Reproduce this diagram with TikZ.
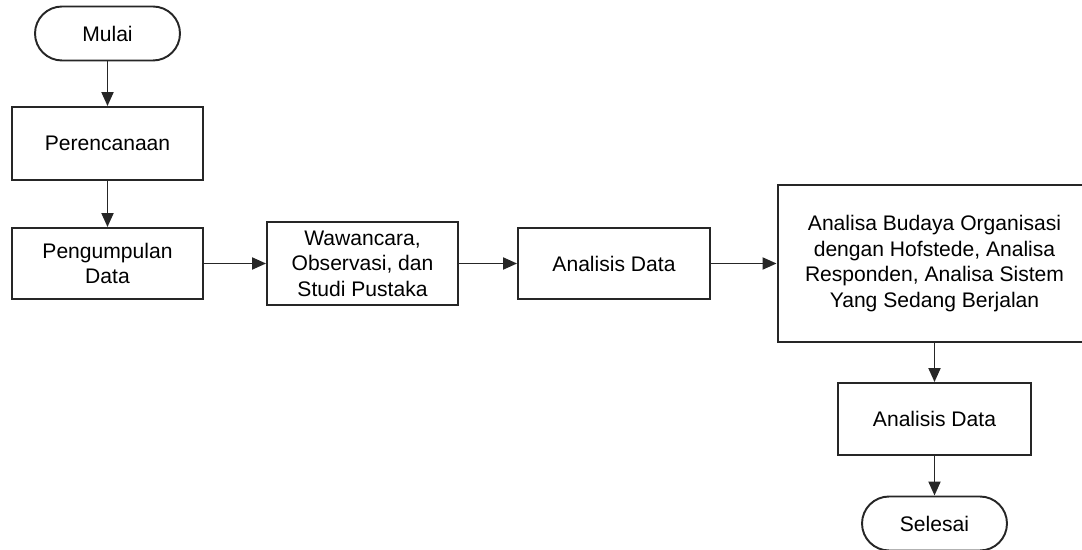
\documentclass[tikz,border=0pt]{standalone}
\usepackage{fontspec}
\setmainfont{Liberation Sans}
\usepackage{tikz}
\usetikzlibrary{arrows.meta, positioning}

\begin{document}
\begin{tikzpicture}[x=0.02cm, y=-0.02cm, >={Triangle[length=0.28cm, width=0.24cm]},
    line width=1.1pt, draw=black!85, font=\fontsize{12}{14.5}\selectfont,
    proses/.style={rectangle, draw, align=center, minimum width=3.82cm, minimum height=1.42cm, inner sep=0pt},
    terminal/.style={rectangle, draw, rounded corners=0.54cm, align=center, minimum width=2.9cm, minimum height=1.08cm, inner sep=0pt}]
    \useasboundingbox (0,0) rectangle (1082,550);
    \node (mulai) [terminal] at (107.5,33.5) {Mulai};
    \node (rencana) [proses, minimum height=1.46cm] at (107.5,143.5) {Perencanaan};
    \node (kumpul) [proses] at (107.5,263.5) {Pengumpulan\\Data};
    \node (wawancara) [proses, minimum height=1.66cm] at (362.5,263.5) {Wawancara,\\Observasi, dan\\Studi Pustaka};
    \node (analisis) [proses, minimum width=3.84cm] at (614,263.5) {Analisis Data};
    \node (budaya) [proses, minimum width=6.28cm, minimum height=3.14cm] at (934.5,263.5) {Analisa Budaya Organisasi\\dengan Hofstede, Analisa\\Responden, Analisa Sistem\\Yang Sedang Berjalan};
    \node (analisis2) [proses, minimum width=3.86cm, minimum height=1.44cm] at (934.5,419) {Analisis Data};
    \node (selesai) [terminal] at (934.5,523.5) {Selesai};

    \draw [->] (mulai) -- (rencana);
    \draw [->] (rencana) -- (kumpul);
    \draw [->] (kumpul) -- (wawancara);
    \draw [->] (wawancara) -- (analisis);
    \draw [->] (analisis) -- (budaya);
    \draw [->] (budaya) -- (analisis2);
    \draw [->] (analisis2) -- (selesai);
\end{tikzpicture}
\end{document}
